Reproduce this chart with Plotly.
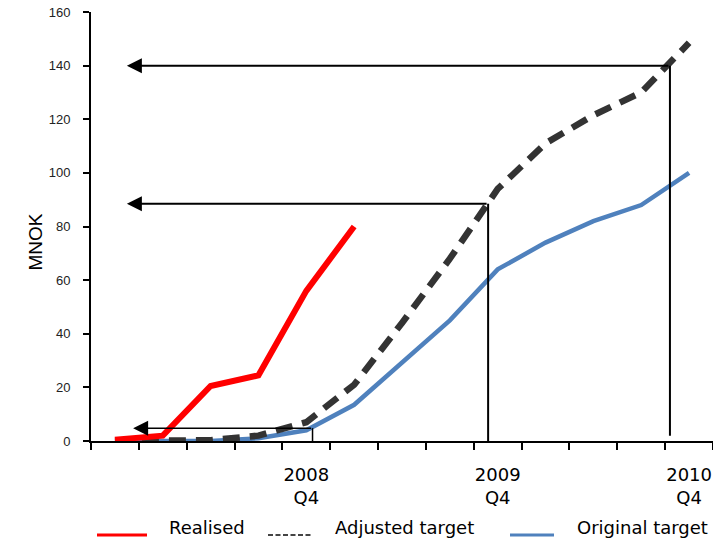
import plotly.graph_objects as go

# Quarterly cumulative amounts (MNOK), 2007 Q4 .. 2010 Q4
quarters = ["2007 Q4", "2008 Q1", "2008 Q2", "2008 Q3", "2008 Q4",
            "2009 Q1", "2009 Q2", "2009 Q3", "2009 Q4",
            "2010 Q1", "2010 Q2", "2010 Q3", "2010 Q4"]
realised = [0.5, 2, 20.5, 24.5, 56, 80]
adjusted_target = [0, 0, 0.3, 2, 7, 21, 44, 68, 94, 111, 121.5, 130, 148.5]
original_target = [0, 0, 0, 1, 4, 13.5, 29.5, 45, 64, 74, 82, 88, 100]

# Year-end labels on the x axis
label_quarters = ["2008 Q4", "2009 Q4", "2010 Q4"]
label_text = ["2008<br>Q4", "2009<br>Q4", "2010<br>Q4"]

arrow_levels = [4.8, 88.5, 140]
arrow_from_x = [4.13, 7.8, 11.6]
arrow_tip_x = [0.38, 0.25, 0.25]
arrow_base_y = [0, 0, 2]
arrow_widths = [1.5, 2, 2]

idx = list(range(len(quarters)))

fig = go.Figure()
fig.add_trace(go.Scatter(x=idx, y=original_target, mode="lines",
                         line=dict(color="#4F81BD", width=4.5),
                         name="Original target"))
fig.add_trace(go.Scatter(x=idx, y=adjusted_target, mode="lines",
                         line=dict(color="#333333", width=6.5, dash="17px,10px"),
                         name="Adjusted target"))
fig.add_trace(go.Scatter(x=idx[:len(realised)], y=realised, mode="lines",
                         line=dict(color="#FF0000", width=6),
                         name="Realised"))

for lvl, x0, tip, yb, w in zip(arrow_levels, arrow_from_x, arrow_tip_x,
                               arrow_base_y, arrow_widths):
    fig.add_shape(type="line", xref="x", yref="y", x0=x0, x1=x0, y0=yb, y1=lvl,
                  line=dict(color="black", width=w))
    fig.add_annotation(x=tip, y=lvl, ax=x0, ay=lvl, xref="x", yref="y",
                       axref="x", ayref="y", text="", showarrow=True,
                       arrowhead=2, arrowsize=1.5 * 2 / w, arrowwidth=w,
                       arrowcolor="black", standoff=0, startstandoff=0)

# Plot area in pixels, used to place the legend below the axis
L, R, T, B = 91, 713, 12, 441


def px(xp):
    return (xp - L) / (R - L)


def py(yp):
    return (B - yp) / (B - T)


legend_items = [
    ("Realised", "#FF0000", "solid", 3, 97, 147, 167),
    ("Adjusted target", "#444444", "5px,2.5px", 2, 268, 313, 333),
    ("Original target", "#4F81BD", "solid", 3, 510, 554, 575),
]
for text, col, dash, w, s0, s1, tx in legend_items:
    fig.add_shape(type="line", xref="paper", yref="paper",
                  x0=px(s0), x1=px(s1), y0=py(535), y1=py(535),
                  line=dict(color=col, width=w, dash=dash))
    fig.add_annotation(x=px(tx), y=py(527), xref="paper", yref="paper",
                       text=text, showarrow=False, xanchor="left",
                       yanchor="middle",
                       font=dict(family="DejaVu Sans", size=18, color="black"))

fig.add_annotation(x=px(22.5), y=py(242.5), xref="paper", yref="paper",
                   text="MNOK", textangle=-90, showarrow=False,
                   font=dict(family="Liberation Sans", size=19, color="black"))

fig.update_layout(
    width=713, height=539,
    margin=dict(l=L, r=713 - R, t=T, b=539 - B),
    paper_bgcolor="white", plot_bgcolor="white",
    showlegend=False,
    xaxis=dict(
        range=[-0.5, 12.5], showgrid=False, zeroline=False,
        showline=True, linecolor="black", linewidth=2,
        tickmode="array",
        tickvals=[quarters.index(q) for q in label_quarters],
        ticktext=label_text, ticks="",
        ticklabelstandoff=16,
        tickfont=dict(family="DejaVu Sans", size=18, color="black"),
        minor=dict(tickmode="array",
                   tickvals=[i - 0.5 for i in range(len(quarters) + 1)],
                   ticks="outside", ticklen=7, tickwidth=2,
                   tickcolor="black", showgrid=False),
    ),
    yaxis=dict(
        range=[0, 160], tickvals=list(range(0, 161, 20)),
        showgrid=False, zeroline=False,
        showline=True, linecolor="black", linewidth=2,
        ticks="outside", ticklen=6, tickwidth=2, tickcolor="black",
        ticklabelstandoff=10,
        tickfont=dict(family="Liberation Sans", size=13, color="#222222"),
    ),
)

fig.write_html("out.html")
